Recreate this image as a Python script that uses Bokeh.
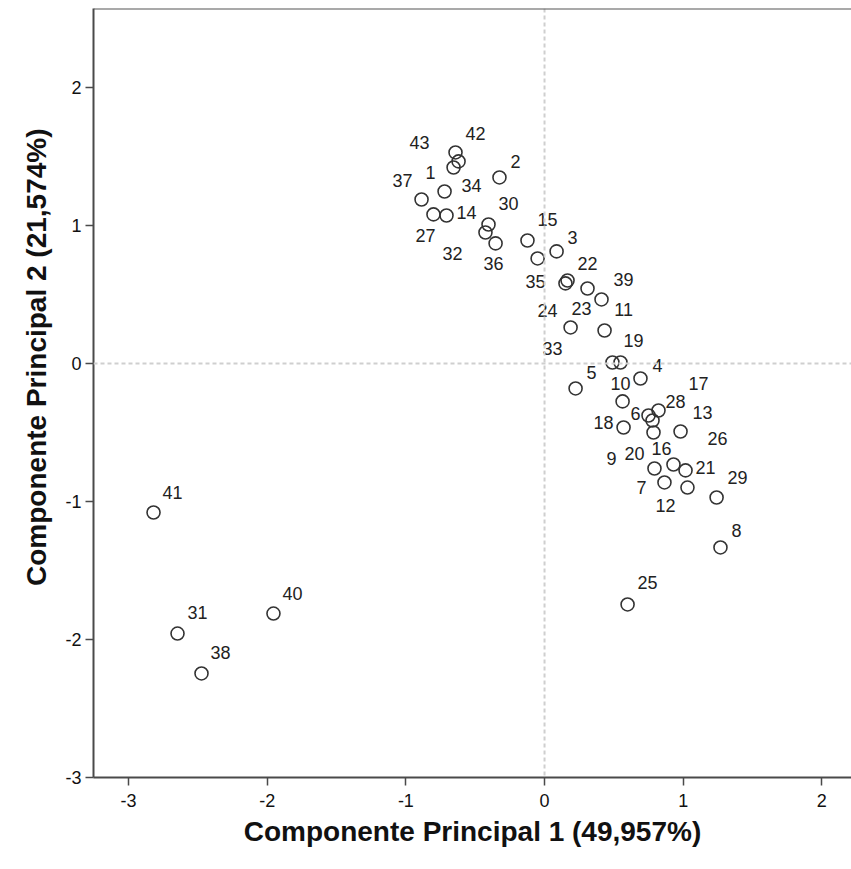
from bokeh.plotting import figure
from bokeh.models import ColumnDataSource, FixedTicker, Span, Range1d, Title
from bokeh.core.properties import value
from bokeh.embed import file_html
from bokeh.resources import INLINE

# ---- data ----
case_ids = [str(i) for i in range(1, 44)]
pc1 = [-0.656, -0.325, 0.087, 0.692, 0.224, 0.750, 0.865, 1.269, 0.570, 0.490,
       0.433, 1.031, 0.981, -0.707, -0.123, 0.786, 0.779, 0.563, 0.548, 0.793,
       1.017, 0.166, 0.310, 0.151, 0.599, 0.930, -0.801, 0.822, 1.241, -0.404,
       -2.647, -0.426, 0.188, -0.721, -0.050, -0.353, -0.887, -2.474, 0.411, -1.955,
       -2.820, -0.642, -0.620]
pc2 = [1.420, 1.348, 0.812, -0.109, -0.181, -0.377, -0.862, -1.333, -0.464, 0.007,
       0.239, -0.899, -0.493, 1.072, 0.891, -0.500, -0.413, -0.275, 0.007, -0.761,
       -0.775, 0.601, 0.543, 0.580, -1.746, -0.732, 1.080, -0.341, -0.971, 1.007,
       -1.957, 0.949, 0.261, 1.246, 0.761, 0.870, 1.188, -2.246, 0.464, -1.812,
       -1.080, 1.529, 1.464]
tick_values = [-3, -2, -1, 0, 1, 2]
tick_labels = ["-3", "-2", "-1", "0", "1", "2"]
x_title = "Componente Principal 1 (49,957%)"
y_title = "Componente Principal 2 (21,574%)"

# label placement offsets in screen pixels (style, not data)
label_dx = [-23, 16, 16, 17, 16, -13, -23, 16, -12, 8,
            19, -22, 22, 20, 20, 8, 46, -19, 13, -20,
            20, 20, -6, -18, 20, 44, -8, 17, 21, 20,
            20, -33, -18, 27, -2, -2, -19, 19, 22, 19,
            19, 20, -39]
label_dy = [5, -16, -14, -13, -16, -2, 5, -17, 31, 21,
            -21, 18, -19, -3, -21, 16, -37, 21, -22, -15,
            -3, -17, 20, 27, -22, -26, 21, -9, -20, -21,
            -21, 21, 21, -6, 23, 20, -19, -21, -20, -20,
            -20, -19, -19]

src = ColumnDataSource(dict(x=pc1, y=pc2, lab=case_ids, dx=label_dx, dy=label_dy))

FONT = "Liberation Sans"
AX = "#4a4a4a"

p = figure(width=851, height=869, output_backend="svg", toolbar_location=None,
           x_range=Range1d(-3.253, 2.214), y_range=Range1d(-3.0, 2.572),
           min_border_left=93, min_border_right=0, min_border_top=8, min_border_bottom=92)
p.outline_line_color = None
p.background_fill_color = "white"
p.border_fill_color = "white"
p.grid.visible = False

for ax in (p.xaxis[0], p.yaxis[0]):
    ax.ticker = FixedTicker(ticks=tick_values)
    ax.major_label_overrides = {v: s for v, s in zip(tick_values, tick_labels)}
    ax.minor_tick_line_color = None
    ax.major_tick_in = 0
    ax.major_tick_out = 8
    ax.major_tick_line_color = AX
    ax.major_tick_line_width = 1.5
    ax.axis_line_color = AX
    ax.axis_line_width = 2
    ax.major_label_text_font = FONT
    ax.major_label_text_font_size = "18px"
    ax.major_label_text_color = "#111111"

p.xaxis[0].axis_label = x_title
p.xaxis[0].axis_label_text_font = FONT
p.xaxis[0].axis_label_text_font_style = "bold"
p.xaxis[0].axis_label_text_font_size = "28px"
p.xaxis[0].axis_label_text_color = "#111111"
p.xaxis[0].major_label_standoff = 8
p.xaxis[0].axis_label_standoff = 6
p.yaxis[0].major_label_standoff = 4

ytitle = Title(text=y_title, align="right", offset=120, standoff=18,
               vertical_align="top", text_line_height=1.6,
               text_font=FONT, text_font_style="bold", text_font_size="28px",
               text_color="#111111")
p.add_layout(ytitle, "left")

# reference lines at 0
p.add_layout(Span(location=0, dimension="width", line_color="#cfcfcf", line_width=2, line_dash="4 3"))
p.add_layout(Span(location=0, dimension="height", line_color="#cfcfcf", line_width=2, line_dash="4 3"))
# top frame line
p.add_layout(Span(location=2.572, dimension="width", line_color="#555555", line_width=2))

p.scatter("x", "y", source=src, marker="circle", size=13, fill_color=None,
          line_color="#333333", line_width=1.6)
p.text("x", "y", text="lab", source=src, x_offset="dx", y_offset="dy",
       text_align="center", text_baseline="middle",
       text_font=value(FONT), text_font_size="18px", text_color="#222222")

open("out.html", "w").write(file_html(p, INLINE))
